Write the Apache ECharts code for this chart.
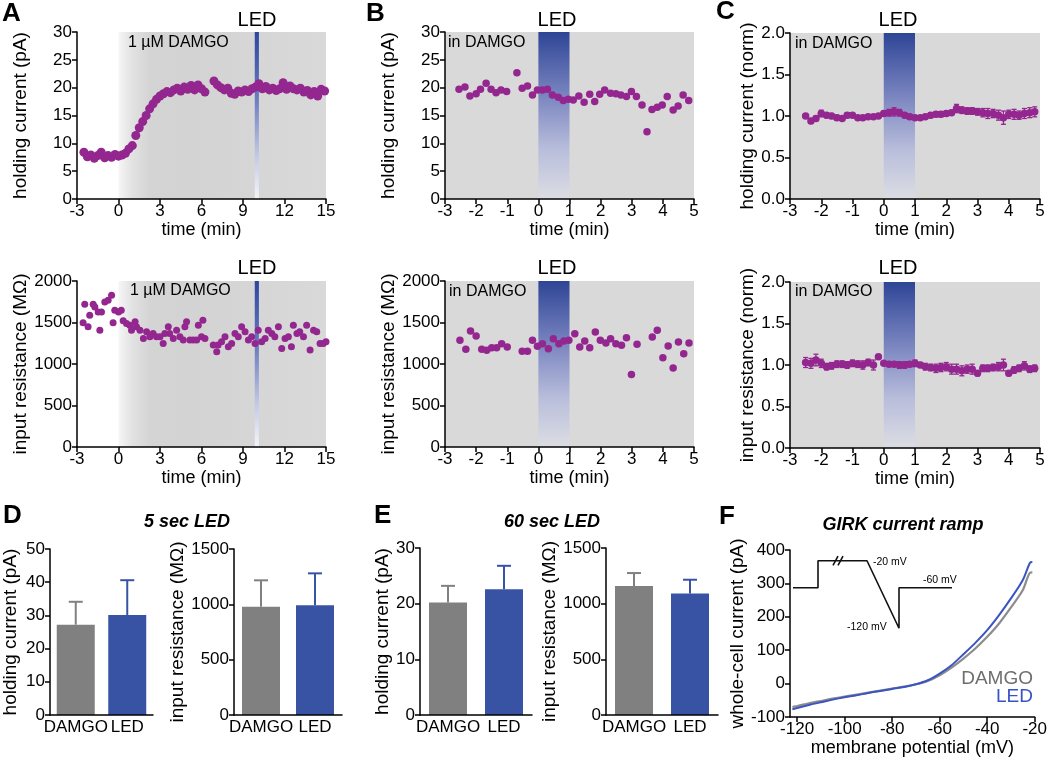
<!DOCTYPE html>
<html><head><meta charset="utf-8">
<script src="https://cdn.jsdelivr.net/npm/echarts@6/dist/echarts.min.js"></script>
<style>html,body{margin:0;padding:0;background:#fff}#c{width:1050px;height:765px}</style>
</head><body><div id="c"></div>
<script>
// ---------- DATA ----------
// Panel A (top): holding current (pA) vs time (min)
const aTopT = [-2.5,-2.25,-2,-1.75,-1.5,-1.25,-1,-0.75,-0.5,-0.25,0,0.25,0.5,0.75,1,1.25,1.5,1.75,2,2.25,2.5,2.75,3,3.25,3.5,3.75,4,4.25,4.5,4.75,5,5.25,5.5,5.75,6,6.25,
  6.9,7.15,7.4,7.65,7.9,8.15,8.4,8.65,8.9,9.15,9.4,9.65,9.9,10.15,10.4,10.65,10.9,11.15,11.4,11.65,11.9,12.15,12.4,12.65,12.9,13.15,13.4,13.65,13.9,14.15,14.4,14.65,14.9];
const aTopV = [8.4,7.6,7.9,7.3,7.8,8.4,7.4,7.8,7.5,8.0,7.7,7.9,8.2,9.0,9.6,11.4,12.8,13.9,15.0,16.2,17.1,17.9,18.5,18.9,19.3,19.1,19.6,19.9,19.4,20.1,19.7,20.4,19.6,20.5,19.8,19.2,
  21.2,20.5,20.0,19.6,19.9,19.0,18.8,19.4,19.2,19.6,19.3,19.8,20.1,20.7,19.8,20.2,19.6,19.9,19.5,19.8,20.9,19.7,20.3,19.8,19.6,19.9,19.2,19.5,18.7,19.3,18.5,19.7,19.4];
// Panel A (bottom): input resistance (MOhm)
const aBotT = [-2.56,-2.44,-2.2,-2.08,-1.83,-1.71,-1.47,-1.35,-1.23,-0.99,-0.75,-0.5,-0.39,-0.27,0,0.2,0.34,0.58,0.82,0.94,1.2,1.3,1.55,1.8,2.03,2.27,2.5,2.75,3.0,3.23,3.35,3.6,3.7,3.96,4.2,4.44,4.68,4.8,4.92,5.16,5.4,5.65,5.77,6.0,6.1,6.25,6.85,7.1,7.2,7.45,7.7,7.94,8.18,8.42,8.66,8.9,9.15,9.39,9.63,9.87,10.1,10.35,10.6,10.83,11.08,11.3,11.56,11.8,12.04,12.28,12.5,12.64,12.9,13.1,13.37,13.6,13.85,14.1,14.33,14.57,14.8,15.0];
const aBotV = [1496,1720,1448,1588,1720,1688,1628,1408,1628,1748,1768,1828,1496,1648,1628,1648,1520,1488,1468,1408,1508,1448,1408,1308,1388,1328,1368,1328,1328,1248,1368,1448,1368,1308,1408,1328,1288,1448,1508,1288,1288,1288,1468,1328,1528,1308,1228,1148,1228,1268,1328,1208,1248,1368,1328,1448,1388,1288,1328,1248,1408,1268,1308,1408,1368,1328,1448,1188,1308,1328,1208,1468,1368,1388,1328,1468,1168,1408,1388,1248,1248,1268];
// Panel B (top): holding current (pA)
const bTopT = [-2.55,-2.36,-2.2,-2.0,-1.86,-1.68,-1.52,-1.36,-1.2,-1.02,-0.69,-0.52,-0.35,-0.19,-0.03,0.13,0.29,0.45,0.64,0.8,0.96,1.12,1.3,1.47,1.65,1.81,1.97,2.13,2.32,2.49,2.65,2.83,2.99,3.15,3.33,3.49,3.65,3.82,3.98,4.14,4.33,4.49,4.65,4.83];
const bTopV = [19.7,20.1,18.5,18.9,19.7,20.8,19.7,19.1,19.6,19.3,22.7,19.9,20.3,18.7,19.6,19.6,19.7,18.7,18.3,17.7,17.9,17.8,18.5,17.4,18.8,17.5,18.8,19.6,19.0,18.9,18.7,18.4,19.3,18.4,16.9,12.1,16.1,16.5,16.9,18.4,16.0,16.7,18.7,17.7];
// Panel B (bottom): input resistance (MOhm)
const bBotT = [-2.52,-2.33,-2.18,-2.0,-1.82,-1.66,-1.5,-1.34,-1.18,-1.0,-0.52,-0.35,-0.19,-0.03,0.13,0.32,0.48,0.66,0.82,0.98,1.17,1.33,1.49,1.65,1.83,1.99,2.17,2.32,2.49,2.67,2.83,2.99,3.17,3.66,3.82,4.0,4.17,4.33,4.5,4.67,4.84];
const bBotV = [1285,1177,1398,1337,1177,1165,1197,1197,1245,1205,1153,1153,1285,1213,1245,1185,1305,1245,1277,1285,1365,1205,1277,1197,1385,1285,1253,1305,1245,1225,1317,875,1237,1325,1406,1076,1217,952,1265,1124,1253];
// Panel C: normalized, mean +/- error
const cT = [-2.5,-2.33,-2.17,-2,-1.83,-1.67,-1.5,-1.33,-1.17,-1,-0.83,-0.67,-0.5,-0.33,-0.17,0,0.17,0.33,0.5,0.67,0.83,1,1.17,1.33,1.5,1.67,1.83,2,2.17,2.33,2.5,2.67,2.83,3,3.17,3.33,3.5,3.67,3.83,4,4.17,4.33,4.5,4.67,4.83];
const cTopV = [1.00,0.94,0.97,1.03,1.01,1.00,0.98,0.97,1.01,1.01,0.98,0.98,0.99,0.99,1.00,1.03,1.04,1.05,1.04,1.01,0.99,0.98,0.98,0.99,1.01,1.02,1.02,1.03,1.04,1.09,1.07,1.06,1.06,1.05,1.04,1.03,1.03,1.01,0.98,1.02,1.02,1.01,1.03,1.04,1.05];
const cTopE = [0.02,0.03,0.03,0.04,0.03,0.03,0.03,0.02,0.03,0.02,0.02,0.02,0.02,0.02,0.02,0.03,0.04,0.05,0.04,0.03,0.03,0.02,0.02,0.02,0.03,0.03,0.03,0.03,0.03,0.05,0.04,0.04,0.04,0.04,0.05,0.06,0.05,0.06,0.08,0.05,0.06,0.05,0.06,0.06,0.06];
const cBotV = [1.03,1.02,1.06,1.02,0.98,0.99,1.01,1.01,1.00,1.02,1.01,1.00,1.03,1.00,1.10,1.02,1.01,1.01,1.00,1.00,1.01,1.02,1.00,0.98,0.97,0.96,0.97,0.98,0.95,0.95,0.93,0.95,0.95,0.90,0.96,0.96,0.97,0.98,1.00,0.90,0.94,0.96,0.99,0.95,0.96];
const cBotE = [0.06,0.06,0.07,0.05,0.04,0.04,0.04,0.04,0.04,0.04,0.04,0.05,0.04,0.06,0.00,0.02,0.02,0.03,0.04,0.04,0.03,0.04,0.03,0.04,0.04,0.05,0.05,0.05,0.06,0.06,0.06,0.05,0.06,0.03,0.04,0.04,0.04,0.05,0.07,0.03,0.04,0.04,0.05,0.04,0.04];
// Panels D, E: bars
const barCats = ['DAMGO', 'LED'];
const d5Hold = [27.2, 30.1], d5HoldErr = [6.9, 10.5];
const d5Res = [979, 991], d5ResErr = [238, 289];
const e60Hold = [20.2, 22.6], e60HoldErr = [3.0, 4.2];
const e60Res = [1158, 1092], e60ResErr = [117, 123];
// Panel F: I-V ramp
const fV = [-122,-120,-115,-110,-105,-100,-95,-90,-85,-80,-75,-70,-65,-60,-55,-50,-45,-40,-35,-30,-25,-22,-21];
const fDamgo = [-70,-67,-59,-52,-45,-39,-33,-27,-21,-15,-9,-2,8,25,48,75,105,140,180,228,280,332,333];
const fLed = [-77,-73,-64,-56,-48,-41,-35,-28,-22,-16,-10,-2,10,30,55,88,122,160,205,255,310,362,364];
const fTicks = [-120,-100,-80,-60,-40,-20];
// Inset voltage protocol (schematic time units, mV)
const protoT = [0,25,25,74,106,106,159];
const protoV = [-60,-60,-20,-20,-120,-60,-60];
const breakT1 = [40,45], breakV1 = [-27,-13];
const breakT2 = [45,50], breakV2 = [-27,-13];

// ---------- STYLE ----------
const FONT = '"Liberation Sans", Arial, Helvetica, sans-serif';
const PURPLE = '#93278f';
const BG = '#d9d9d9';
const BAR_GRAY = '#808080';
const BAR_BLUE = '#3953a4';
const zip = (a, b) => a.slice(0, Math.min(a.length, b.length)).map((x, i) => [x, b[i]]);

const grids = [], xAxes = [], yAxes = [], series = [];

function axis(gi, o) {
  const a = {
    gridIndex: gi, type: o.type || 'value', z: 5,
    axisLine: {show: true, onZero: false, lineStyle: {color: '#000', width: 1.5}},
    axisTick: {show: o.tick !== false, inside: false, length: 5, lineStyle: {color: '#000', width: 1.5}},
    axisLabel: {color: '#000', fontSize: o.fs || 17, fontFamily: FONT, margin: o.margin != null ? o.margin : 4},
    splitLine: {show: false},
    name: o.name || '', nameLocation: 'middle', nameGap: o.gap || 20,
    nameTextStyle: {color: '#000', fontSize: o.nfs || 19, fontFamily: FONT}
  };
  if (o.type === 'category') { a.data = o.data; a.axisLabel.interval = 0; }
  else {
    a.min = o.min; a.max = o.max; if (o.interval != null) a.interval = o.interval;
    a.axisLabel.formatter = o.fmt || (v => String(v));
  }
  if (o.custom) { a.axisTick.customValues = o.custom; a.axisLabel.customValues = o.custom; }
  if (o.show === false) a.show = false;
  return a;
}

function addGrid(box, bg) {
  grids.push(Object.assign({show: !!bg, backgroundColor: bg || 'transparent', borderWidth: 0, containLabel: false}, box));
  return grids.length - 1;
}

const ledGradV = {type: 'linear', x: 0, y: 0, x2: 0, y2: 1, colorStops: [
  {offset: 0, color: '#2e4596'}, {offset: 0.35, color: '#7480bd'}, {offset: 0.7, color: '#b8bddb'}, {offset: 1, color: '#dcdde3'}]};
const ledGradA = {type: 'linear', x: 0, y: 0, x2: 0, y2: 1, colorStops: [
  {offset: 0, color: '#2c46a0'}, {offset: 0.4, color: '#6b7cc0'}, {offset: 0.75, color: '#c5cbe6'}, {offset: 1, color: '#f3f4f9'}]};
const damgoGrad = {type: 'linear', x: 0, y: 0, x2: 1, y2: 0, colorStops: [
  {offset: 0, color: '#f6f6f6'}, {offset: 0.06, color: '#e3e3e3'}, {offset: 0.15, color: '#d4d4d4'}, {offset: 0.35, color: '#d3d3d3'}, {offset: 1, color: '#d9d9d9'}]};

function bgSeries(gi, areas) {
  series.push({type: 'scatter', xAxisIndex: gi, yAxisIndex: gi, data: [], z: 1, silent: true,
    markArea: {silent: true, data: areas.map(a => [{xAxis: a[0], itemStyle: {color: a[2]}}, {xAxis: a[1]}])}});
}
function dots(gi, xs, ys, size) {
  series.push({type: 'scatter', xAxisIndex: gi, yAxisIndex: gi, data: zip(xs, ys), symbolSize: size, z: 3, silent: true,
    itemStyle: {color: PURPLE, opacity: 1}});
}
function errBars(gi, xs, ys, es, color) {
  series.push({type: 'custom', xAxisIndex: gi, yAxisIndex: gi, z: 2, silent: true,
    data: xs.map((t, i) => [t, ys[i] - es[i], ys[i] + es[i]]),
    encode: {x: 0, y: [1, 2]},
    renderItem: (p, api) => {
      const lo = api.coord([api.value(0), api.value(1)]);
      const hi = api.coord([api.value(0), api.value(2)]);
      const w = 2.5, st = {stroke: color, lineWidth: 1.3};
      return {type: 'group', children: [
        {type: 'line', shape: {x1: lo[0], y1: lo[1], x2: hi[0], y2: hi[1]}, style: st},
        {type: 'line', shape: {x1: lo[0] - w, y1: lo[1], x2: lo[0] + w, y2: lo[1]}, style: st},
        {type: 'line', shape: {x1: hi[0] - w, y1: hi[1], x2: hi[0] + w, y2: hi[1]}, style: st}]};
    }});
}
function barPanel(box, vals, errs, ymax, yint, yname, gap) {
  const gi = addGrid(box);
  xAxes.push(axis(gi, {type: 'category', data: barCats, tick: false, fs: 17, margin: 4}));
  yAxes.push(axis(gi, {min: 0, max: ymax, interval: yint, name: yname, gap: gap, margin: 5}));
  const cols = [BAR_GRAY, BAR_BLUE];
  series.push({type: 'bar', xAxisIndex: gi, yAxisIndex: gi, barWidth: 38, silent: true, z: 2,
    data: vals.map((v, i) => ({value: v, itemStyle: {color: cols[i]}}))});
  series.push({type: 'custom', xAxisIndex: gi, yAxisIndex: gi, z: 1, silent: true,
    data: vals.map((v, i) => [i, v, v + errs[i]]), encode: {x: 0, y: [1, 2]},
    renderItem: (p, api) => {
      const b = api.coord([api.value(0), api.value(1)]);
      const t = api.coord([api.value(0), api.value(2)]);
      const st = {stroke: cols[p.dataIndex], lineWidth: 2};
      return {type: 'group', children: [
        {type: 'line', shape: {x1: b[0], y1: b[1], x2: t[0], y2: t[1]}, style: st},
        {type: 'line', shape: {x1: t[0] - 7, y1: t[1], x2: t[0] + 7, y2: t[1]}, style: st}]};
    }});
}

// ---- Panel A ----
let g = addGrid({left: 77, top: 32, width: 249, height: 167});
xAxes.push(axis(g, {min: -3, max: 15, interval: 3, name: 'time (min)', gap: 21, margin: 4, nfs: 18}));
yAxes.push(axis(g, {min: 0, max: 30, interval: 5, name: 'holding current (pA)', gap: 47, margin: 5}));
bgSeries(g, [[0, 15, damgoGrad], [9.85, 10.15, ledGradA]]);
dots(g, aTopT, aTopV, 9);

g = addGrid({left: 77, top: 281, width: 249, height: 166});
xAxes.push(axis(g, {min: -3, max: 15, interval: 3, name: 'time (min)', gap: 21, margin: 4, nfs: 18}));
yAxes.push(axis(g, {min: 0, max: 2000, interval: 500, name: 'input resistance (MΩ)', gap: 47, margin: 5}));
bgSeries(g, [[0, 15, damgoGrad], [9.85, 10.15, ledGradA]]);
dots(g, aBotT, aBotV, 7);

// ---- Panel B ----
g = addGrid({left: 445, top: 32, width: 249, height: 167}, BG);
xAxes.push(axis(g, {min: -3, max: 5, interval: 1, name: 'time (min)', gap: 21, margin: 4, nfs: 18}));
yAxes.push(axis(g, {min: 0, max: 30, interval: 5, name: 'holding current (pA)', gap: 47, margin: 5}));
bgSeries(g, [[0, 1, ledGradV]]);
dots(g, bTopT, bTopV, 7.5);

g = addGrid({left: 445, top: 281, width: 249, height: 166}, BG);
xAxes.push(axis(g, {min: -3, max: 5, interval: 1, name: 'time (min)', gap: 21, margin: 4, nfs: 18}));
yAxes.push(axis(g, {min: 0, max: 2000, interval: 500, name: 'input resistance (MΩ)', gap: 47, margin: 5}));
bgSeries(g, [[0, 1, ledGradV]]);
dots(g, bBotT, bBotV, 7.5);

// ---- Panel C ----
const f1 = v => v.toFixed(1);
g = addGrid({left: 790, top: 33, width: 250, height: 166}, BG);
xAxes.push(axis(g, {min: -3, max: 5, interval: 1, name: 'time (min)', gap: 21, margin: 4, nfs: 18}));
yAxes.push(axis(g, {min: 0, max: 2, interval: 0.5, name: 'holding current (norm)', gap: 33, margin: 5, fmt: f1}));
bgSeries(g, [[0, 1, ledGradV]]);
errBars(g, cT, cTopV, cTopE, PURPLE);
dots(g, cT, cTopV, 7.5);

g = addGrid({left: 790, top: 282, width: 250, height: 166}, BG);
xAxes.push(axis(g, {min: -3, max: 5, interval: 1, name: 'time (min)', gap: 21, margin: 4, nfs: 18}));
yAxes.push(axis(g, {min: 0, max: 2, interval: 0.5, name: 'input resistance (norm)', gap: 33, margin: 5, fmt: f1}));
bgSeries(g, [[0, 1, ledGradV]]);
errBars(g, cT, cBotV, cBotE, PURPLE);
dots(g, cT, cBotV, 7.5);

// ---- Panels D, E ----
barPanel({left: 49, top: 549, width: 104, height: 166}, d5Hold, d5HoldErr, 50, 10, 'holding current (pA)', 30);
barPanel({left: 234, top: 549, width: 108, height: 166}, d5Res, d5ResErr, 1500, 500, 'input resistance (MΩ)', 38);
barPanel({left: 420, top: 548, width: 112, height: 167}, e60Hold, e60HoldErr, 30, 10, 'holding current (pA)', 27);
barPanel({left: 606, top: 548, width: 112, height: 167}, e60Res, e60ResErr, 1500, 500, 'input resistance (MΩ)', 44);

// ---- Panel F ----
g = addGrid({left: 790, top: 550, width: 248, height: 167});
xAxes.push(axis(g, {min: -123, max: -20, name: 'membrane potential (mV)', gap: 21, margin: 4, nfs: 18, custom: fTicks}));
yAxes.push(axis(g, {min: -100, max: 400, interval: 100, name: 'whole-cell current (pA)', gap: 40, margin: 5}));
series.push({type: 'line', xAxisIndex: g, yAxisIndex: g, data: zip(fV, fDamgo), symbol: 'none', smooth: 0.3, silent: true, z: 2,
  lineStyle: {color: '#8c8c8c', width: 2.2}});
series.push({type: 'line', xAxisIndex: g, yAxisIndex: g, data: zip(fV, fLed), symbol: 'none', smooth: 0.3, silent: true, z: 3,
  lineStyle: {color: '#3b55c0', width: 2}});

// inset protocol
g = addGrid({left: 793, top: 554, width: 159, height: 81});
xAxes.push(axis(g, {min: 0, max: 159, show: false}));
yAxes.push(axis(g, {min: -130, max: -10, show: false}));
const protoLine = (xs, ys) => series.push({type: 'line', xAxisIndex: g, yAxisIndex: g, data: zip(xs, ys), symbol: 'none',
  silent: true, clip: false, z: 4, lineStyle: {color: '#111', width: 1.6}});
protoLine(protoT, protoV);
protoLine(breakT1, breakV1);
protoLine(breakT2, breakV2);

// ---------- TEXT ----------
const T = (text, x, y, font, align, color) => ({type: 'text', x: x, y: y, silent: true, z: 10,
  style: {text: text, font: font, fill: color || '#000', textAlign: align || 'left', align: align || 'left',
    textVerticalAlign: 'middle', verticalAlign: 'middle'}});
const BIG = 'bold 26px ' + FONT, LEDF = '20px ' + FONT, LBL = '16px ' + FONT, TTL = 'italic bold 18px ' + FONT, SM = '10.5px ' + FONT;
const graphic = [
  T('A', 2, 14, BIG), T('B', 366, 14, BIG), T('C', 716, 12, BIG),
  T('D', 3, 516, BIG), T('E', 374, 516, BIG), T('F', 719, 517, BIG),
  T('LED', 257, 20, LEDF, 'center'), T('LED', 557, 20, LEDF, 'center'), T('LED', 898, 20, LEDF, 'center'),
  T('LED', 257, 268, LEDF, 'center'), T('LED', 557, 268, LEDF, 'center'), T('LED', 898, 268, LEDF, 'center'),
  T('1 µM DAMGO', 128, 43, LBL), T('1 µM DAMGO', 130, 291, LBL),
  T('in DAMGO', 448, 43, LBL), T('in DAMGO', 449, 292, LBL),
  T('in DAMGO', 795, 44, LBL), T('in DAMGO', 795, 292, LBL),
  T('5 sec LED', 187, 522, TTL, 'center'), T('60 sec LED', 552, 522, TTL, 'center'), T('GIRK current ramp', 903, 525, TTL, 'center'),
  T('-20 mV', 873, 562, SM), T('-60 mV', 923, 580, SM), T('-120 mV', 847, 627, SM),
  T('DAMGO', 1033, 679, '19px ' + FONT, 'right', '#6e6e6e'), T('LED', 1033, 697, '19px ' + FONT, 'right', '#3953c4')
];

const chart = echarts.init(document.getElementById('c'), null, {renderer: 'canvas'});
chart.setOption({animation: false, backgroundColor: '#fff', grid: grids, xAxis: xAxes, yAxis: yAxes, series: series, graphic: graphic});
</script></body></html>
